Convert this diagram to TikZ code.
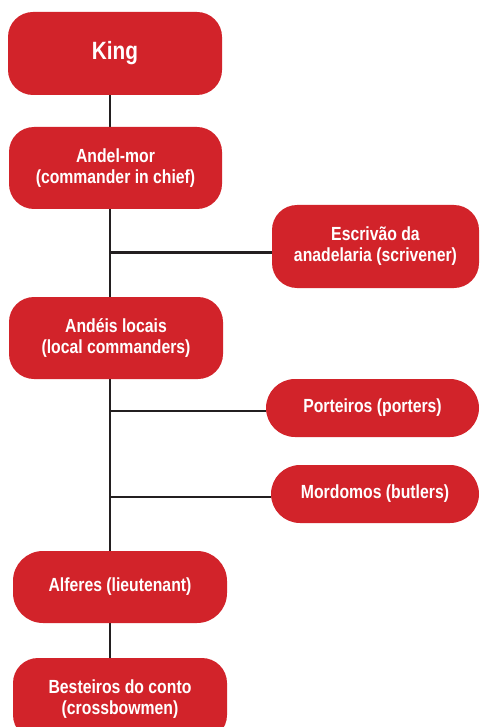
\documentclass[tikz,border=0pt]{standalone}
\usepackage{fontspec}
\setmainfont{Liberation Sans}[FakeStretch=0.83]
\usetikzlibrary{backgrounds}
\definecolor{boxred}{HTML}{D2232A}
\definecolor{linedark}{HTML}{231F20}
\tikzset{
  box/.style={fill=boxred, draw=none, text=white, align=center,
    font=\fontsize{19}{21}\selectfont\bfseries, inner sep=0pt,
    rounded corners=25pt},
  pill/.style={box, rounded corners=29pt},
  conn/.style={draw=linedark, line width=2.2pt}
}
\begin{document}
\begin{tikzpicture}[x=1pt,y=-1pt]
\useasboundingbox (0,0) rectangle (479,727);
\node[box, minimum width=214pt, minimum height=83pt, font=\fontsize{25}{28}\selectfont\bfseries] (king) at (115,53.5) {King};
\node[box, minimum width=213pt, minimum height=82pt] (andel) at (115.5,168) {Andel-mor\\(commander in chief)};
\node[box, minimum width=207pt, minimum height=83pt] (esc) at (375.5,246.5) {Escrivão da\\anadelaria (scrivener)};
\node[box, minimum width=214pt, minimum height=82pt] (andeis) at (116,338) {Andéis locais\\(local commanders)};
\node[pill, minimum width=213pt, minimum height=58pt] (port) at (372.5,408) {Porteiros (porters)};
\node[pill, minimum width=208pt, minimum height=58pt] (mord) at (375,494) {Mordomos (butlers)};
\node[box, minimum width=214pt, minimum height=72pt, rounded corners=30pt] (alf) at (120,587) {Alferes (lieutenant)};
\node[box, minimum width=214pt, minimum height=82pt] (best) at (120,699) {Besteiros do conto\\(crossbowmen)};
\coordinate (spine) at (110,0);
\coordinate (escin) at ([yshift=-6pt]esc.west);
\coordinate (portin) at ([yshift=-3pt]port.west);
\coordinate (mordin) at ([yshift=-3pt]mord.west);
\begin{pgfonlayer}{background}
\draw[conn] (spine |- king.south) -- (spine |- best.north);
\draw[conn] (spine |- escin) -- (escin);
\draw[conn] (spine |- portin) -- (portin);
\draw[conn] (spine |- mordin) -- (mordin);
\end{pgfonlayer}
\end{tikzpicture}
\end{document}
